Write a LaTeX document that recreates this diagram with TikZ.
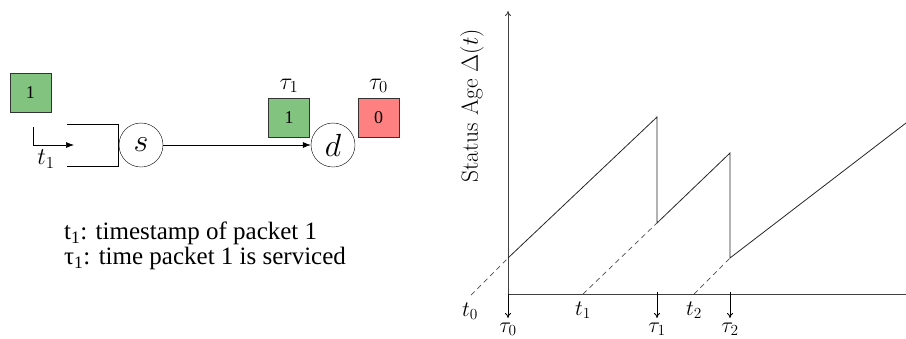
\RequirePackage{fix-cm}
\documentclass[tikz,border=0pt]{standalone}
\usepackage{fontspec}
\newfontfamily\timesfont{Liberation Serif}
\usetikzlibrary{arrows.meta, positioning}

\definecolor{pktgreen}{RGB}{130,195,128}
\definecolor{pktred}{RGB}{255,128,128}

\begin{document}
\begin{tikzpicture}[
    x=1pt, y=-1pt,
    pkt/.style={rectangle, draw=black!80, minimum width=41pt, minimum height=39pt,
                inner sep=0pt, font=\timesfont\fontsize{18}{18}\selectfont},
    nodecirc/.style={circle, draw, minimum size=44pt, inner sep=0pt,
                     font=\fontsize{32}{32}\selectfont},
    lbl/.style={inner sep=0pt, font=\fontsize{24}{24}\selectfont},
    plbl/.style={inner sep=0pt, font=\fontsize{22}{22}\selectfont},
    arrow/.style={-{Latex[length=8pt, width=6pt]}, semithick},
    tick/.style={-{To[length=5pt, width=6pt]}, line width=0.8pt},
    curve/.style={line width=0.8pt, black!85},
    ghost/.style={line width=0.7pt, dash pattern=on 5pt off 4pt, black!70}
]
\useasboundingbox (0,0) rectangle (906,338);

% left: source -> destination
\node[pkt, fill=pktgreen] (pkt1) at (30.5,92.5) {1};
\coordinate (qtop) at (67,124);
\coordinate (qbot) at (67,166);
\draw[semithick] (qtop) -- (118,124) -- (118,166) -- (qbot);
\node[nodecirc] (s) at (141,145) {$s$};
\node[nodecirc] (d) at (333,145) {$d$};
\coordinate (stamp) at (33,127);
\coordinate (qin) at (74,145);
\draw[arrow] (stamp) |- (qin);
\node[lbl] (t1lbl) at (46,159) {$t_1$};
\draw[arrow] (s) -- (d);

\node[pkt, fill=pktgreen] (pktd1) at (289,117.5) {1};
\node[pkt, fill=pktred] (pktd0) at (378.5,117.5) {0};
\node[lbl, above=5pt of pktd1] (tau1lbl) {$\tau_1$};
\node[lbl, above=5pt of pktd0] (tau0lbl) {$\tau_0$};

\node[anchor=west, align=left, inner sep=0pt,
      font=\timesfont\fontsize{25}{25}\selectfont] (legend) at (64,246)
    {t\textsubscript{1}: timestamp of packet 1\\
     τ\textsubscript{1}: time packet 1 is serviced};

% right: status age plot
\coordinate (O) at (508,294);
\coordinate (ytop) at (508,11);
\coordinate (xend) at (906,294);
\draw[line width=0.8pt, black!75, -{To[length=5pt, width=6pt]}] (O) -- (ytop);
\draw[line width=0.8pt, black!75] (O) -- (xend);
\node[plbl, rotate=90, font=\fontsize{23.5}{23.5}\selectfont] (ylbl) at (472,106)
    {Status Age $\Delta(t)$};

\coordinate (t0) at (471,295);
\coordinate (t1) at (583,294);
\coordinate (t2) at (694,294);
\coordinate (a0) at (508,258);
\coordinate (p1) at (657,117);
\coordinate (a1) at (657,223);
\coordinate (p2) at (730,153);
\coordinate (a2) at (730,258);
\coordinate (pend) at (906,123);

\draw[curve] (a0) -- (p1) -- (a1) -- (p2) -- (a2) -- (pend);
\draw[ghost] (t0) -- (a0);
\draw[ghost] (t1) -- (a1);
\draw[ghost] (t2) -- (a2);

\coordinate (s0) at (508,318);
\coordinate (s1t) at (657,292);
\coordinate (s1) at (657,318);
\coordinate (s2t) at (730,292);
\coordinate (s2) at (730,318);
\draw[tick] (O) -- (s0);
\draw[tick] (s1t) -- (s1);
\draw[tick] (s2t) -- (s2);

\node[plbl] (t0lbl) at (470,311) {$t_0$};
\node[plbl] (t1lbl2) at (583,310) {$t_1$};
\node[plbl] (t2lbl) at (694,310) {$t_2$};
\node[plbl, anchor=base] (tau0) at (508,332) {$\tau_0$};
\node[plbl, anchor=base] (tau1) at (657,332) {$\tau_1$};
\node[plbl, anchor=base] (tau2) at (730,332) {$\tau_2$};
\end{tikzpicture}
\end{document}
